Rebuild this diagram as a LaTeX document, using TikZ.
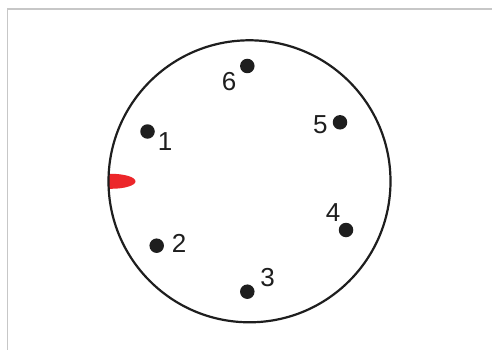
\documentclass[tikz,border=0pt]{standalone}
\usepackage{fontspec}
\setmainfont{Liberation Sans}
\definecolor{marker}{RGB}{236,38,42}
\definecolor{ink}{RGB}{30,30,30}
\begin{document}
\begin{tikzpicture}[x=1pt,y=-1pt,
  dotmark/.style={circle,fill=ink,inner sep=0pt,minimum size=14.5pt},
  numlabel/.style={inner sep=0pt,font=\fontsize{26}{28}\selectfont,text=ink},
  ring/.style={draw=ink,line width=2.2pt}]
\useasboundingbox (0,0) rectangle (492,350);
\fill[white] (0,0) rectangle (492,350);
\draw[black!22,line width=1.5pt] (7.5,350) -- (7.5,9) -- (492,9);
\coordinate (c) at (249.5,181.3);
\begin{scope}
  \clip (c) circle (141);
  \fill[marker] (111,181.3) ellipse (24.5 and 7.5);
\end{scope}
\draw[ring] (c) circle (141);
\node[dotmark] (d1) at (147.5,131.5) {};
\node[dotmark] (d2) at (156.7,245.7) {};
\node[dotmark] (d3) at (247.3,291.7) {};
\node[dotmark] (d4) at (346,230) {};
\node[dotmark] (d5) at (340,122.3) {};
\node[dotmark] (d6) at (247.3,66) {};
\node[numlabel] (l1) at (165,141.5) {1};
\node[numlabel] (l2) at (179,243.3) {2};
\node[numlabel] (l3) at (267.5,277.5) {3};
\node[numlabel] (l4) at (333,212.5) {4};
\node[numlabel] (l5) at (320.3,124.2) {5};
\node[numlabel] (l6) at (229,81.7) {6};
\end{tikzpicture}
\end{document}
